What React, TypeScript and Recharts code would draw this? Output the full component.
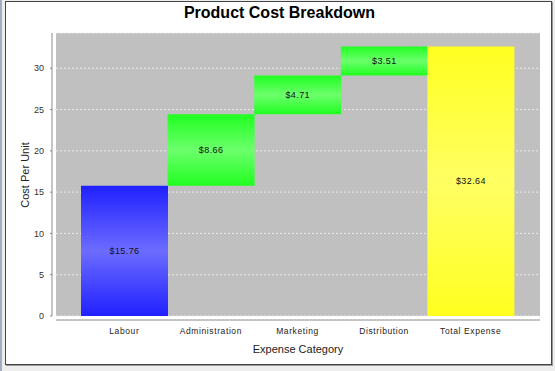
import React from 'react';
import { BarChart, Bar, XAxis, YAxis, CartesianGrid, Cell, LabelList } from 'recharts';

const categories = ['Labour', 'Administration', 'Marketing', 'Distribution', 'Total Expense'];
const amounts = [15.76, 8.66, 4.71, 3.51, 32.64];
const isTotal = [false, false, false, false, true];
const yTicks = [0, 5, 10, 15, 20, 25, 30];
const barGradients = ['gBlue', 'gGreen', 'gGreen', 'gGreen', 'gYellow'];

const data = (() => {
  let running = 0;
  return categories.map((name, i) => {
    const base = isTotal[i] ? 0 : running;
    if (!isTotal[i]) running += amounts[i];
    return { name, base, value: amounts[i] };
  });
})();

const font = '"Liberation Sans", Arial, sans-serif';

export default function App() {
  return (
    <div style={{ position: 'absolute', left: 0, top: 0, width: 555, height: 371, background: '#eeeeee', overflow: 'hidden', fontFamily: font }}>
      <div style={{ position: 'absolute', left: 0, top: 0, width: 2, height: 371, background: '#a3aec2' }} />
      <div style={{ position: 'absolute', left: 5, top: 1, width: 545, height: 362, background: '#ffffff', border: '1px solid #444', boxShadow: '1px 1px 0 #999' }} />
      <div style={{ position: 'absolute', left: 0, top: 0 }}>
        <BarChart width={555} height={371} data={data} margin={{ top: 33, right: 15, bottom: 25, left: 0 }} barCategoryGap={0} barGap={0}>
          <defs>
            <linearGradient id="gBlue" x1="0" y1="0" x2="0" y2="1">
              <stop offset="0%" stopColor="#2020ff" />
              <stop offset="50%" stopColor="#6c6cff" />
              <stop offset="100%" stopColor="#2020ff" />
            </linearGradient>
            <linearGradient id="gGreen" x1="0" y1="0" x2="0" y2="1">
              <stop offset="0%" stopColor="#20ff20" />
              <stop offset="50%" stopColor="#6cff6c" />
              <stop offset="100%" stopColor="#20ff20" />
            </linearGradient>
            <linearGradient id="gYellow" x1="0" y1="0" x2="0" y2="1">
              <stop offset="0%" stopColor="#ffff20" />
              <stop offset="50%" stopColor="#ffff64" />
              <stop offset="100%" stopColor="#ffff20" />
            </linearGradient>
          </defs>
          <CartesianGrid vertical={false} fill="#c0c0c0" stroke="#ececec" strokeDasharray="2 2" />
          <XAxis
            dataKey="name"
            padding={{ left: 25, right: 26 }}
            height={30}
            tickLine={false}
            tickSize={0}
            tickMargin={12}
            axisLine={{ stroke: '#8a8a8a', transform: 'translate(0,4)' }}
            tick={{ fontSize: 8.5, fill: '#222', fontFamily: font, letterSpacing: 0.6 }}
            interval={0}
          />
          <YAxis
            width={56}
            domain={[0, 34.27]}
            ticks={yTicks}
            tickSize={2}
            tickMargin={10}
            axisLine={{ stroke: '#8a8a8a', transform: 'translate(-4,0)' }}
            tickLine={{ stroke: '#8a8a8a', transform: 'translate(-4,0)' }}
            tick={{ fontSize: 9, fill: '#333', fontFamily: font }}
          />
          <Bar dataKey="base" stackId="w" fill="transparent" isAnimationActive={false} />
          <Bar dataKey="value" stackId="w" isAnimationActive={false}>
            {data.map((d, i) => (
              <Cell key={d.name} fill={`url(#${barGradients[i]})`} />
            ))}
            <LabelList
              dataKey="value"
              position="center"
              formatter={(v: any) => `$${Number(v).toFixed(2)}`}
              style={{ fontSize: 9, fill: '#111', fontFamily: font, letterSpacing: 0.4 }}
            />
          </Bar>
        </BarChart>
      </div>
      <div style={{ position: 'absolute', left: 0, width: 555, top: 4, textAlign: 'center', fontSize: 16, fontWeight: 'bold', color: '#000', paddingLeft: 2 }}>
        Product Cost Breakdown
      </div>
      <div style={{ position: 'absolute', left: 56, width: 484, top: 343, textAlign: 'center', fontSize: 11, color: '#222' }}>
        Expense Category
      </div>
      <div style={{ position: 'absolute', left: 25, top: 175, width: 0, height: 0 }}>
        <div style={{ position: 'absolute', left: -60, top: -7, width: 120, textAlign: 'center', fontSize: 11, color: '#222', transform: 'rotate(-90deg)', whiteSpace: 'nowrap', lineHeight: '14px' }}>
          Cost Per Unit
        </div>
      </div>
    </div>
  );
}
